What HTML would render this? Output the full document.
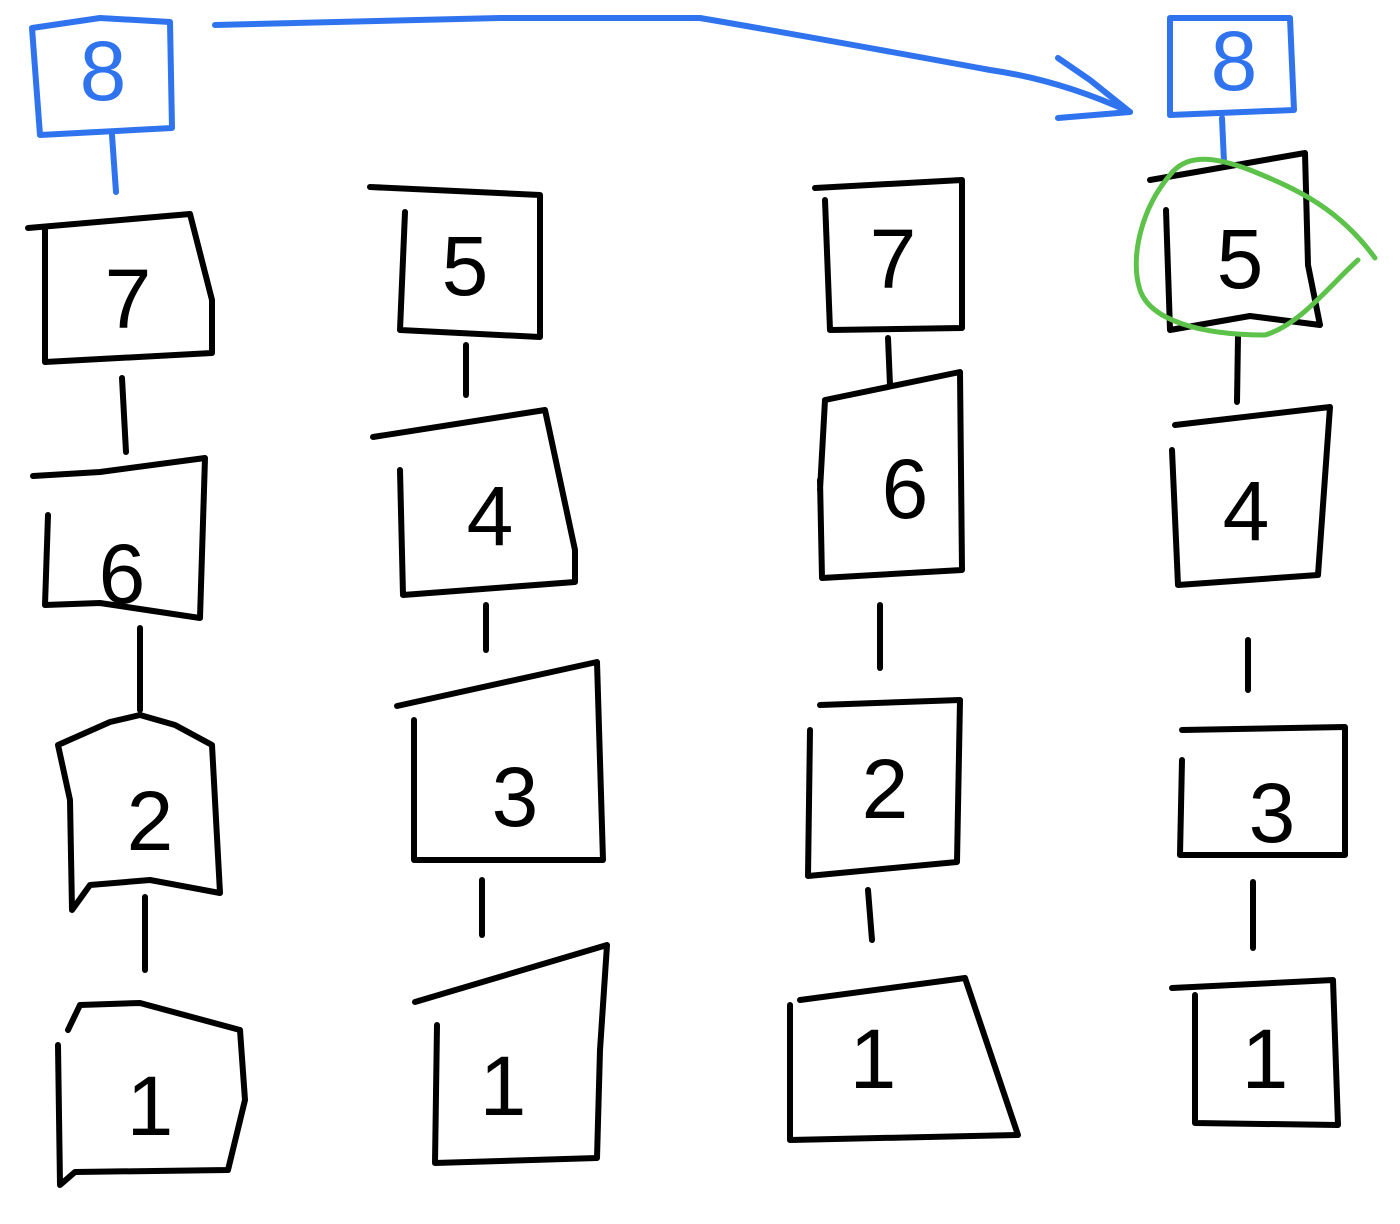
<!DOCTYPE html>
<html><head><meta charset="utf-8"><style>
html,body{margin:0;padding:0;background:#fff;}
svg{display:block}
.k{fill:none;stroke:#000;stroke-width:6;stroke-linecap:round;stroke-linejoin:round}
.b{fill:none;stroke:#2f74ee;stroke-width:6;stroke-linecap:round;stroke-linejoin:round}
.g{fill:none;stroke:#5cc24a;stroke-width:5;stroke-linecap:round;stroke-linejoin:round}
text{font-family:"Liberation Sans",sans-serif;font-size:84px;text-anchor:middle}
</style></head><body>
<svg width="1400" height="1224" viewBox="0 0 1400 1224">
<!-- blue -->
<polyline class="b" points="32,28 100,18 170,22 172,128 40,135 32,28"/>
<text x="103" y="100" fill="#2f74ee" font-size="80">8</text>
<line class="b" x1="112" y1="135" x2="116" y2="192"/>
<polyline class="b" points="1170,18 1290,18 1294,110 1170,115 1170,18"/>
<text x="1234" y="90" fill="#2f74ee" font-size="78">8</text>
<line class="b" x1="1222" y1="118" x2="1224" y2="162"/>
<path class="b" d="M215,25 L500,18 L700,18 Q800,35 990,70 Q1060,80 1130,112"/>
<polyline class="b" points="1058,58 1090,80 1130,112 1058,118"/>

<!-- column 1 -->
<polyline class="k" points="28,228 190,214 212,300 212,353 45,362 45,228"/>
<text x="128" y="328">7</text>
<line class="k" x1="122" y1="378" x2="126" y2="452"/>
<polyline class="k" points="33,476 100,472 205,458 200,618 100,603 45,605 48,515"/>
<text x="122" y="603">6</text>
<line class="k" x1="140" y1="628" x2="140" y2="710"/>
<polyline class="k" points="58,745 110,722 140,715 175,725 212,745 220,893 150,880 90,885 72,910 70,800 58,745"/>
<text x="150" y="850">2</text>
<line class="k" x1="145" y1="897" x2="145" y2="970"/>
<polyline class="k" points="68,1030 80,1005 140,1003 240,1030 245,1100 228,1170 75,1172 60,1185 58,1045"/>
<text x="150" y="1135">1</text>

<!-- column 2 -->
<polyline class="k" points="370,187 540,195 540,337 400,330 405,212"/>
<text x="465" y="295">5</text>
<line class="k" x1="466" y1="345" x2="466" y2="395"/>
<polyline class="k" points="373,437 545,410 575,550 575,582 403,595 400,470"/>
<text x="490" y="545">4</text>
<line class="k" x1="486" y1="605" x2="486" y2="650"/>
<polyline class="k" points="397,706 597,662 603,860 414,860 414,720"/>
<text x="515" y="826">3</text>
<line class="k" x1="482" y1="880" x2="482" y2="935"/>
<polyline class="k" points="415,1002 607,945 600,1050 597,1158 435,1163 437,1025"/>
<text x="503" y="1115">1</text>

<!-- column 3 -->
<polyline class="k" points="815,188 962,180 962,328 830,330 825,200"/>
<text x="893" y="288">7</text>
<line class="k" x1="888" y1="338" x2="890" y2="385"/>
<polyline class="k" points="820,490 825,400 960,372 962,570 822,578 820,480"/>
<text x="905" y="518">6</text>
<line class="k" x1="880" y1="605" x2="880" y2="668"/>
<polyline class="k" points="820,705 960,700 957,862 808,876 810,730"/>
<text x="885" y="818">2</text>
<line class="k" x1="868" y1="890" x2="872" y2="940"/>
<polyline class="k" points="800,1000 965,978 1018,1135 790,1140 790,1005"/>
<text x="873" y="1088">1</text>

<!-- column 4 -->
<polyline class="k" points="1150,180 1305,153 1308,265 1320,325 1250,316 1170,330 1166,210"/>
<text x="1240" y="288">5</text>
<line class="k" x1="1238" y1="337" x2="1237" y2="402"/>
<polyline class="k" points="1175,425 1330,407 1318,575 1178,585 1172,450"/>
<text x="1246" y="540">4</text>
<line class="k" x1="1248" y1="640" x2="1248" y2="690"/>
<polyline class="k" points="1182,730 1345,727 1345,855 1180,855 1182,760"/>
<text x="1272" y="842">3</text>
<line class="k" x1="1253" y1="882" x2="1253" y2="948"/>
<polyline class="k" points="1172,988 1333,980 1338,1125 1195,1123 1195,995"/>
<text x="1265" y="1088">1</text>

<!-- green circle -->
<path class="g" d="M1375,258 C1340,210 1300,190 1250,170 C1210,155 1185,155 1170,175 C1140,210 1130,260 1140,290 C1150,320 1200,335 1265,335 C1300,325 1330,285 1358,260"/>
</svg>
</body></html>
